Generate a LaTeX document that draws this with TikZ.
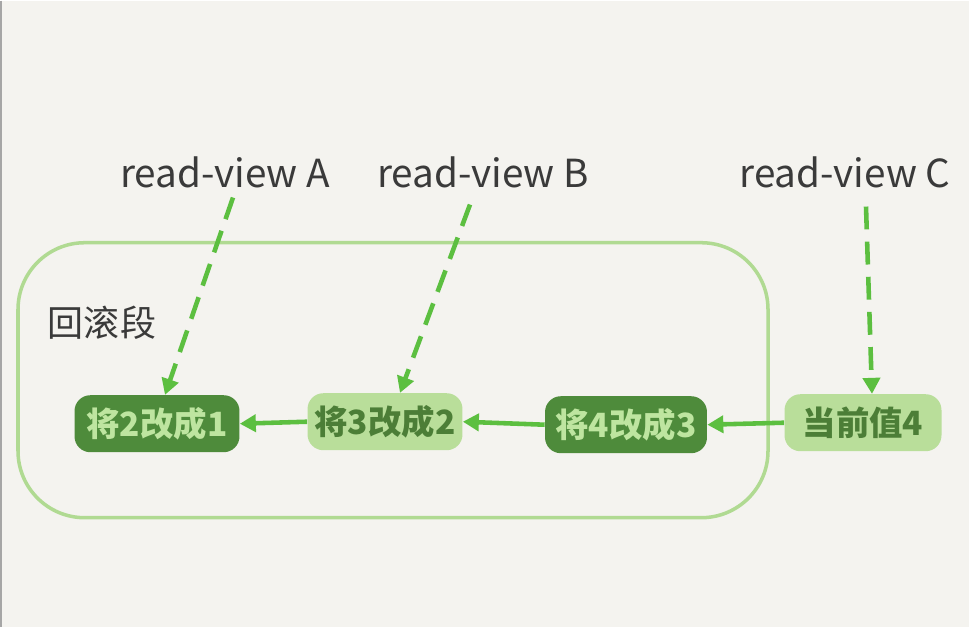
\documentclass[tikz,border=0pt]{standalone}
\usepackage{fontspec}
\setmainfont{Noto Sans CJK SC}
\usepackage{xcolor}
\definecolor{paper}{HTML}{F4F3EF}
\definecolor{darkleaf}{HTML}{4E8B3B}
\definecolor{paleleaf}{HTML}{B9DE9A}
\definecolor{inkleaf}{HTML}{4C7E37}
\definecolor{lightink}{HTML}{BEE5A0}
\definecolor{arrowgreen}{HTML}{5CBF40}
\definecolor{ringgreen}{HTML}{B0DA92}
\definecolor{char}{HTML}{3A3A3A}
\usepackage{tikz}
\usetikzlibrary{arrows.meta,positioning}

\begin{document}
\begin{tikzpicture}[
  x=0.02cm, y=-0.02cm,
  rec/.style={rounded corners=9pt, minimum height=1.14cm, inner sep=0pt,
    font=\fontsize{19}{22}\selectfont\bfseries},
  olddark/.style={rec, fill=darkleaf, text=lightink},
  oldpale/.style={rec, fill=paleleaf, text=inkleaf},
  label/.style={text=char, font=\fontsize{22}{26}\selectfont},
  arr/.style={-{Triangle[length=3.2mm,width=3.4mm]}, line width=2.6pt, color=arrowgreen},
  dasharr/.style={arr, dash pattern=on 13pt off 7pt}
]

% Paper
\fill[paper] (0,0) rectangle (969,626);
\draw[black!35, line width=0.8pt] (1,0) -- (1,626);

% Rollback segment
\draw[ringgreen, line width=2pt, rounded corners=38pt] (18,242) rectangle (768,517);
\node[text=char, font=\fontsize{20.5}{24}\selectfont] (seg) at (102,322) {回滚段};

% Versions
\node[olddark, minimum width=3.3cm] (v1) at (157,423) {将2改成1};
\node[oldpale, minimum width=3.1cm] (v2) at (385,421) {将3改成2};
\node[olddark, minimum width=3.24cm] (v3) at (626,424) {将4改成3};
\node[oldpale, minimum width=3.14cm] (v4) at (863,422) {当前值4};

\draw[arr] (v2.west) -- (v1.east);
\draw[arr] (v3.west) -- (v2.east);
\draw[arr] (v4.west) -- (v3.east);

% Read views
\node[label] (rva) at (225,172) {read-view A};
\node[label] (rvb) at (483,172) {read-view B};
\node[label] (rvc) at (845,172) {read-view C};

\draw[dasharr] ([xshift=0.16cm, yshift=-0.06cm]rva.south) -- ([xshift=0.16cm]v1.north);
\draw[dasharr] ([xshift=-0.26cm, yshift=-0.2cm]rvb.south) -- ([xshift=0.3cm]v2.north);
\draw[dasharr] ([xshift=0.42cm, yshift=-0.24cm]rvc.south) -- ([xshift=0.18cm]v4.north);

\end{tikzpicture}
\end{document}
